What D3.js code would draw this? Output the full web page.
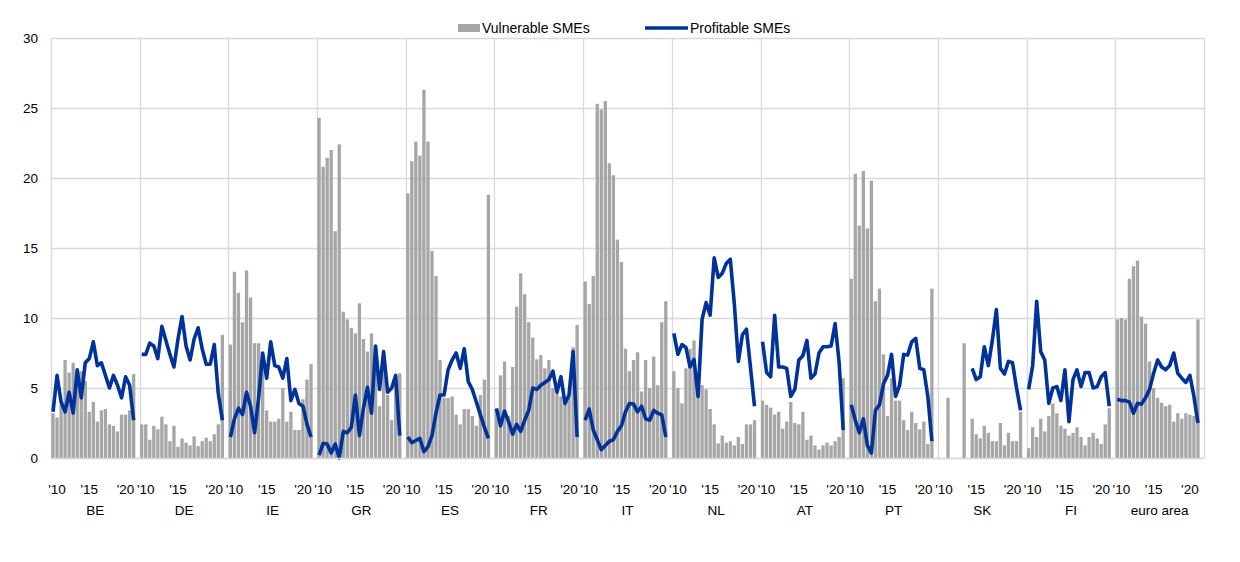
<!DOCTYPE html>
<html><head><meta charset="utf-8">
<script src="https://cdn.jsdelivr.net/npm/d3@7"></script>
<style>
html,body{margin:0;padding:0;background:#fff;}
text{font-family:"Liberation Sans",Arial,sans-serif;fill:#000;}
</style></head>
<body><svg id="c" width="1240" height="562"></svg>
<script>
const countries = ["BE","DE","IE","GR","ES","FR","IT","NL","AT","PT","SK","FI","euro area"];
const periodLabels = ["","'10","","","","","","","","'15","","","","","","","","","'20","","",""];
const yTicks = [0,5,10,15,20,25,30];

const BE_vulnerable = [3.2,2.9,3.8,7.0,6.1,6.8,5.8,6.2,5.5,3.3,4.0,2.6,3.4,3.5,2.4,2.3,1.9,3.1,3.1,3.4,6.0];
const BE_profitable = [3.3,5.9,4.0,3.3,4.7,3.2,6.3,4.3,6.8,7.1,8.3,6.6,6.8,5.9,5.0,5.9,5.2,4.3,5.8,5.2,2.7];
const DE_vulnerable = [2.4,2.4,1.3,2.3,2.05,2.95,2.4,1.2,2.3,0.8,1.4,1.1,0.9,1.55,0.85,1.2,1.45,1.2,1.7,2.4,8.8];
const DE_profitable = [7.4,7.4,8.2,8.0,7.1,9.4,8.4,7.4,6.5,8.5,10.1,8.0,7.0,8.5,9.3,7.8,6.7,6.7,8.1,4.6,2.7];
const IE_vulnerable = [8.1,13.3,11.8,9.7,13.4,11.45,8.2,8.2,7.3,3.4,2.6,2.6,2.8,5.0,2.6,3.3,2.0,2.0,4.2,5.6,6.7];
const IE_profitable = [1.5,2.8,3.55,3.1,4.7,3.7,1.8,4.3,7.5,5.7,8.3,6.6,6.5,5.7,7.1,4.1,4.9,3.9,3.7,2.4,1.5];
const GR_vulnerable = [24.3,20.8,21.45,22.0,16.2,22.4,10.45,9.9,9.3,8.9,11.05,8.5,7.6,8.9,8.0,3.7,7.2,4.5,2.7,5.5,6.05];
const GR_profitable = [0.2,1.05,1.0,0.35,1.0,0.0,1.9,1.8,2.2,4.5,1.6,3.55,5.05,3.2,8.0,4.9,7.6,4.7,5.0,5.9,1.6];
const ES_vulnerable = [18.9,21.2,22.6,21.6,26.3,22.6,14.8,13.0,7.0,4.3,4.3,4.4,3.1,2.4,3.5,3.5,3.0,2.3,4.5,5.6,18.8];
const ES_profitable = [1.5,1.1,1.25,1.4,0.45,0.8,1.6,3.2,4.5,4.5,6.3,7.0,7.5,6.4,7.8,5.45,4.9,4.0,3.1,2.2,1.4];
const FR_vulnerable = [3.5,5.9,6.9,3.0,6.5,10.8,13.2,11.7,9.7,8.6,7.05,7.35,6.4,7.0,5.0,4.6,4.4,3.9,4.5,7.9,9.5];
const FR_profitable = [3.55,2.3,3.35,2.6,1.7,2.4,1.9,2.7,3.4,5.0,4.9,5.2,5.4,5.6,6.2,4.7,5.8,3.9,4.5,7.6,1.5];
const IT_vulnerable = [12.6,11.0,13.0,25.3,24.9,25.5,21.05,20.2,15.6,14.0,7.8,6.2,7.0,7.55,4.75,7.0,5.0,7.25,5.2,9.7,11.2];
const IT_profitable = [2.7,3.5,2.0,1.3,0.6,0.9,1.2,1.3,1.9,2.3,3.3,3.9,3.85,3.3,3.7,2.8,2.7,3.4,3.2,3.1,1.5];
const NL_vulnerable = [6.2,5.0,3.9,6.4,7.8,8.4,5.2,5.2,4.9,3.5,2.4,1.05,1.6,1.1,1.2,0.9,1.5,1.0,2.4,2.4,2.7];
const NL_profitable = [8.9,7.4,8.1,7.9,6.5,7.05,4.4,9.9,11.1,10.2,14.3,12.9,13.2,13.9,14.2,11.0,6.9,8.8,9.2,6.5,3.7];
const AT_vulnerable = [4.1,3.8,3.6,3.1,3.3,2.1,2.6,4.0,2.5,2.4,3.3,1.3,1.6,0.9,0.6,0.9,1.1,0.9,1.2,1.5,5.7];
const AT_profitable = [8.3,6.1,5.8,10.2,6.5,6.5,6.4,4.4,4.9,7.0,7.3,8.4,5.7,6.0,7.5,7.95,7.95,8.0,9.6,6.8,2.0];
const PT_vulnerable = [12.8,20.3,16.6,20.5,16.4,19.8,11.2,12.1,7.4,3.0,5.7,4.1,4.1,2.7,2.0,3.3,2.5,2.05,2.6,1.0,12.1];
const PT_profitable = [3.8,2.7,1.8,2.8,0.9,0.35,3.4,3.8,5.3,5.9,7.4,4.4,5.2,7.4,7.35,8.3,8.55,6.4,6.3,4.4,1.2];
const SK_vulnerable = [null,null,4.3,null,null,null,8.2,null,2.8,1.7,1.4,2.3,1.8,1.2,1.2,2.5,0.9,1.8,1.2,1.2,3.3];
const SK_profitable = [null,null,null,null,null,null,null,null,6.4,5.6,5.8,7.95,6.6,8.4,10.6,6.4,6.0,6.9,6.8,5.0,3.4];
const FI_vulnerable = [0.7,2.2,1.5,2.8,1.9,3.0,3.9,3.2,2.3,2.1,1.6,1.8,2.2,1.5,0.9,1.5,1.8,1.4,1.0,2.4,3.55];
const FI_profitable = [4.9,6.6,11.2,7.6,7.0,3.9,5.0,5.1,4.1,6.3,2.6,5.6,6.3,5.1,6.1,6.1,5.0,5.1,5.8,6.1,3.7];
const EA_vulnerable = [9.9,10.0,9.9,12.8,13.7,14.1,10.1,9.6,6.9,5.0,4.3,3.95,3.7,3.8,2.6,3.2,2.8,3.2,3.1,3.0,9.9];
const EA_profitable = [4.2,4.1,4.1,4.0,3.2,3.9,3.85,4.3,4.9,6.05,7.0,6.5,6.3,6.6,7.5,6.05,5.7,5.4,5.9,4.4,2.5];

const vulnerableSeries = [BE_vulnerable,DE_vulnerable,IE_vulnerable,GR_vulnerable,ES_vulnerable,FR_vulnerable,IT_vulnerable,NL_vulnerable,AT_vulnerable,PT_vulnerable,SK_vulnerable,FI_vulnerable,EA_vulnerable];
const profitableSeries = [BE_profitable,DE_profitable,IE_profitable,GR_profitable,ES_profitable,FR_profitable,IT_profitable,NL_profitable,AT_profitable,PT_profitable,SK_profitable,FI_profitable,EA_profitable];

const svg = d3.select("#c");
const pLeft = 51, pRight = 1204, pTop = 38, pBottom = 458;

const x0 = d3.scaleBand().domain(countries).range([pLeft, pRight]).padding(0);
const x1 = d3.scaleBand().domain(d3.range(periodLabels.length)).range([0, x0.bandwidth()]).paddingInner(0.18).paddingOuter(0.09);
const y = d3.scaleLinear().domain([0, 30]).range([pBottom, pTop]);

const grid = "#d9d9d9";
svg.append("g").selectAll("line").data(yTicks).join("line")
  .attr("x1", pLeft - 0.5).attr("x2", pRight)
  .attr("y1", d => Math.round(y(d)) + 0.5).attr("y2", d => Math.round(y(d)) + 0.5)
  .attr("stroke", grid).attr("stroke-width", 1.3);
const bounds = countries.map(c => x0(c)).concat([pRight]);
svg.append("g").selectAll("line").data(bounds).join("line")
  .attr("x1", d => Math.round(d) + 0.5).attr("x2", d => Math.round(d) + 0.5)
  .attr("y1", pTop).attr("y2", pBottom)
  .attr("stroke", grid).attr("stroke-width", 1.3);

const yAxis = d3.axisLeft(y).tickValues(yTicks).tickSize(0).tickPadding(13);
const gy = svg.append("g").attr("transform", `translate(${pLeft},0)`).call(yAxis);
gy.select(".domain").remove();
gy.selectAll("text").style("font-size", "13.5px").style("font-family", "Liberation Sans, Arial, sans-serif").attr("fill", "#000");

const table = [];
countries.forEach((c, ci) => {
  vulnerableSeries[ci].forEach((v, pi) => { if (v != null) table.push({c, pi, v}); });
});
svg.append("g").selectAll("rect").data(table).join("rect")
  .attr("x", d => x0(d.c) + x1(d.pi))
  .attr("width", x1.bandwidth())
  .attr("y", d => y(d.v))
  .attr("height", d => y(0) - y(d.v))
  .attr("fill", "#a6a6a6");

const line = d3.line()
  .defined(d => d.v != null)
  .x(d => x0(d.c) + x1(d.pi) + x1.bandwidth() / 2)
  .y(d => y(d.v));
countries.forEach((c, ci) => {
  const pts = profitableSeries[ci].map((v, pi) => ({c, pi, v}));
  svg.append("path").datum(pts).attr("d", line)
    .attr("fill", "none").attr("stroke", "#003299").attr("stroke-width", 3.6)
    .attr("stroke-linejoin", "round").attr("stroke-linecap", "butt");
});

svg.append("line").attr("x1", pLeft).attr("x2", pRight)
  .attr("y1", pBottom + 0.5).attr("y2", pBottom + 0.5).attr("stroke", grid).attr("stroke-width", 1.3);

countries.forEach(c => {
  const g = svg.append("g");
  const axis = d3.axisBottom(x1).tickSize(0).tickFormat(i => periodLabels[i]);
  g.attr("transform", `translate(${x0(c)},${pBottom + 23})`).call(axis);
  g.select(".domain").remove();
  g.selectAll("text").style("font-size", "13.5px").style("font-family", "Liberation Sans, Arial, sans-serif").attr("fill", "#000");
});
svg.append("g").selectAll("text").data(countries).join("text")
  .attr("x", d => x0(d) + x0.bandwidth() / 2)
  .attr("y", 515)
  .attr("text-anchor", "middle")
  .style("font-size", "13.5px")
  .text(d => d);

const lg = svg.append("g");
lg.append("rect").attr("x", 458).attr("y", 24).attr("width", 22).attr("height", 8).attr("fill", "#a6a6a6");
lg.append("text").attr("x", 482).attr("y", 33).style("font-size", "14px").text("Vulnerable SMEs");
lg.append("line").attr("x1", 645).attr("x2", 688).attr("y1", 28).attr("y2", 28).attr("stroke", "#003299").attr("stroke-width", 3.6);
lg.append("text").attr("x", 690).attr("y", 33).style("font-size", "14px").text("Profitable SMEs");
</script></body></html>
